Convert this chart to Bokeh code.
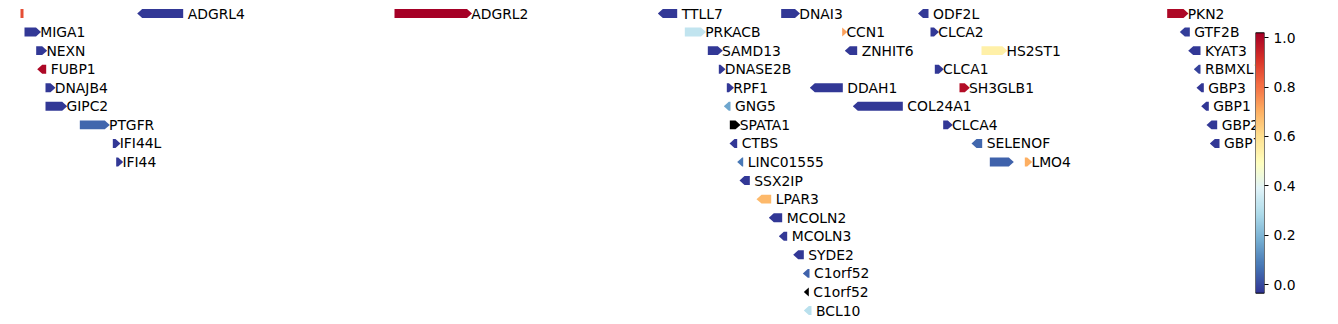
import numpy as np
from bokeh.plotting import figure
from bokeh.models import (Range1d, LinearColorMapper, ColumnDataSource,
                          FixedTicker, PrintfTickFormatter)
from bokeh.transform import transform
from bokeh.layouts import row
from bokeh.core.properties import value
from bokeh.palettes import RdYlBu11
from bokeh.embed import file_html
from bokeh.resources import INLINE

# ---------------- data ----------------
names = ["", "ADGRL4", "ADGRL2", "TTLL7", "DNAI3", "ODF2L", "PKN2",
         "MIGA1", "PRKACB", "CCN1", "CLCA2", "GTF2B",
         "NEXN", "SAMD13", "ZNHIT6", "HS2ST1", "KYAT3",
         "FUBP1", "DNASE2B", "CLCA1", "RBMXL1",
         "DNAJB4", "RPF1", "DDAH1", "SH3GLB1", "GBP3",
         "GIPC2", "GNG5", "COL24A1", "GBP1",
         "PTGFR", "SPATA1", "CLCA4", "GBP2",
         "IFI44L", "CTBS", "SELENOF", "GBP7",
         "IFI44", "LINC01555", "", "LMO4",
         "SSX2IP", "LPAR3", "MCOLN2", "MCOLN3", "SYDE2",
         "C1orf52", "C1orf52", "BCL10"]
starts = [20, 136.7, 394, 657.3, 780.7, 917.5, 1166.7,
          24, 684.3, 841.7, 930, 1179.3,
          35.7, 707.3, 844.3, 981, 1187.7,
          36.7, 718.3, 934.3, 1193.3,
          45, 726.3, 809.3, 959, 1196,
          45, 723.3, 852.3, 1200.7,
          79.3, 729.3, 942.7, 1206,
          112.3, 729, 971, 1209.3,
          115.7, 736.7, 989.3, 1024.3,
          739, 756, 768.3, 778.3, 792.7,
          802.3, 803.3, 803.3]
ends = [23, 182.7, 471.5, 676.7, 799.5, 928, 1188,
        40.5, 705.5, 846.7, 938.5, 1189.3,
        46.7, 722.3, 856.7, 1006.8, 1200,
        45.7, 725, 943.3, 1200,
        55, 733.5, 842.3, 969.3, 1203.3,
        66.7, 730, 902.3, 1208.3,
        109.3, 740, 952.3, 1216.7,
        120, 736.7, 981.7, 1219,
        122.7, 742.7, 1013.3, 1031.7,
        749.3, 770.7, 781.7, 786.7, 803.3,
        809, 808.3, 811]
rows = [0, 0, 0, 0, 0, 0, 0,
        1, 1, 1, 1, 1,
        2, 2, 2, 2, 2,
        3, 3, 3, 3,
        4, 4, 4, 4, 4,
        5, 5, 5, 5,
        6, 6, 6, 6,
        7, 7, 7, 7,
        8, 8, 8, 8,
        9, 10, 11, 12, 13,
        14, 15, 16]
strands = [".", "-", "+", "-", "+", "-", "+",
           "+", "+", "+", "+", "-",
           "+", "+", "-", "+", "-",
           "-", "+", "+", "-",
           "+", "+", "-", "+", "-",
           "+", "-", "-", "-",
           "+", "+", "+", "-",
           "+", "-", "-", "-",
           "+", "-", "+", "+",
           "-", "-", "-", "-", "-",
           "-", "-", "-"]
nan = float("nan")
scores = [0.862, -0.03, 1.02, -0.03, -0.03, -0.03, 1.0,
          -0.03, 0.324, 0.725, -0.03, -0.02,
          -0.03, -0.03, -0.03, 0.545, -0.03,
          1.0, -0.03, -0.03, -0.014,
          -0.03, -0.03, -0.03, 0.99, -0.035,
          -0.03, 0.165, -0.03, -0.035,
          0.05, nan, -0.03, -0.03,
          -0.03, -0.03, 0.05, -0.03,
          -0.03, 0.08, 0.04, 0.70,
          -0.03, 0.68, -0.03, -0.03, -0.03,
          0.04, nan, 0.31]
cbar_ticks = [0.0, 0.2, 0.4, 0.6, 0.8, 1.0]
vmin, vmax = -0.035, 1.02

# ---------------- styling ----------------
FONT = "DejaVu Sans"
FSIZE = "13.9px"
HEAD = 5.0          # arrow head length (x units)
HALF = 0.242        # half bar height (row units)
H = 324


def interp_palette(colors, n=256):
    rgb = np.array([[int(c[i:i + 2], 16) for i in (1, 3, 5)] for c in colors], float)
    pos = np.linspace(0, 1, len(colors))
    t = np.linspace(0, 1, n)
    return ['#%02x%02x%02x' % tuple(int(round(np.interp(tt, pos, rgb[:, k]))) for k in range(3))
            for tt in t]


base = list(RdYlBu11)
if base[0].lower() == "#a50026":   # make low -> blue, high -> red (RdYlBu_r)
    base = base[::-1]
palette = interp_palette(base)
mapper = LinearColorMapper(palette=palette, low=vmin, high=vmax, nan_color="black")

xs, ys, lx = [], [], []
for s, e, r, st in zip(starts, ends, rows, strands):
    h = min(HEAD, e - s)
    if st == "+":
        xs.append([s, e - h, e, e - h, s])
        ys.append([r - HALF, r - HALF, r, r + HALF, r + HALF])
        lx.append(e - 0.8)
    elif st == "-":
        xs.append([e, s + h, s, s + h, e])
        ys.append([r - HALF, r - HALF, r, r + HALF, r + HALF])
        lx.append(e + 4.5)
    else:
        xs.append([s, e, e, s])
        ys.append([r - HALF, r - HALF, r + HALF, r + HALF])
        lx.append(e + 4.5)

src = ColumnDataSource(dict(xs=xs, ys=ys, score=scores, name=names,
                            lx=lx, row=rows))

ROWSTEP = 18.5625
TOP = 13.0
p = figure(width=1255, height=H, output_backend="svg", toolbar_location=None,
           x_range=Range1d(0, 1255),
           y_range=Range1d((H - TOP) / ROWSTEP, -TOP / ROWSTEP),
           x_axis_location=None, y_axis_location=None,
           min_border=0, min_border_left=0, min_border_right=0,
           min_border_top=0, min_border_bottom=0)
p.outline_line_color = None
p.background_fill_color = "white"
p.border_fill_color = "white"
for g in p.grid:
    g.visible = False

p.patches(xs="xs", ys="ys", source=src,
          fill_color=transform("score", mapper), line_color=None)
p.text(x="lx", y="row", text="name", source=src,
       text_font=value(FONT), text_font_size=FSIZE,
       text_baseline="middle", text_align="left", text_color="black")

# ---------------- colorbar (own figure, same full-height frame) ----------------
CB_TOP, CB_BOT = 32.3, 292.7           # pixel rows of the bar's ends
scale = (CB_BOT - CB_TOP) / (vmax - vmin)
y_lo = vmin - (H - CB_BOT) / scale
y_hi = vmax + CB_TOP / scale
cb = figure(width=83, height=H, output_backend="svg", toolbar_location=None,
            x_range=Range1d(0, 1), y_range=Range1d(y_lo, y_hi),
            x_axis_location=None, y_axis_location="right",
            min_border=0, min_border_left=0, min_border_right=74,
            min_border_top=0, min_border_bottom=0)
for g in cb.grid:
    g.visible = False
cb.outline_line_color = None
cb.border_fill_color = "white"
cb.background_fill_color = "white"
grad = np.linspace(vmin, vmax, 256).reshape(256, 1)
cb.image(image=[grad], x=0, y=vmin, dw=1, dh=vmax - vmin, color_mapper=mapper)
cb.quad(left=[0], right=[1], bottom=[vmin], top=[vmax], fill_color=None,
        line_color="black", line_width=1)
ax = cb.yaxis[0]
ax.ticker = FixedTicker(ticks=cbar_ticks)
ax.formatter = PrintfTickFormatter(format="%.1f")
ax.axis_line_color = None
ax.major_tick_in = 0
ax.major_tick_out = 4
ax.major_tick_line_color = "black"
ax.minor_tick_line_color = None
ax.major_label_standoff = 5
ax.major_label_text_font = FONT
ax.major_label_text_font_size = FSIZE
ax.major_label_text_color = "black"

layout = row(p, cb)
open("out.html", "w").write(file_html(layout, INLINE))
